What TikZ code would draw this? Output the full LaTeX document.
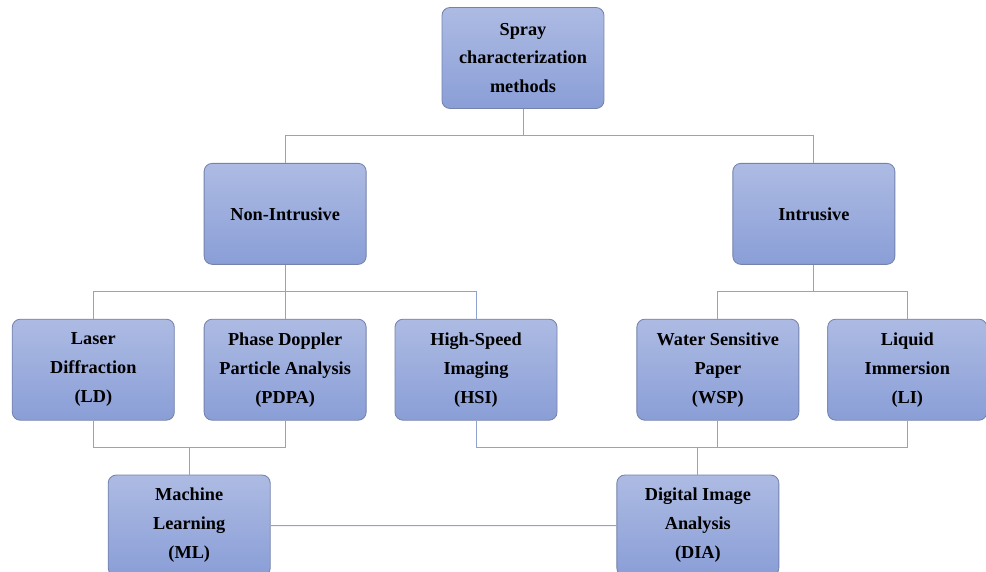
\documentclass[tikz,border=0pt]{standalone}
\usepackage{fontspec}
\setmainfont{Liberation Serif}
\usetikzlibrary{positioning,calc}

\definecolor{boxtop}{HTML}{ADBBE3}
\definecolor{boxbot}{HTML}{8A9ED7}
\definecolor{boxline}{HTML}{7482AC}
\definecolor{linkline}{HTML}{8FA2D0}

\begin{document}
\begin{tikzpicture}[
method/.style={rectangle, rounded corners=0.2cm, draw=boxline, line width=0.6pt, top color=boxtop, bottom color=boxbot, minimum width=4.05cm, minimum height=2.525cm, align=center, font=\fontsize{13}{20.6}\selectfont\bfseries},
link/.style={draw=linkline, line width=0.7pt}
]
\useasboundingbox (0,0) rectangle (24.65,-14.275);
%Nodes
\node[method]	(spray)	at (13.075,-1.45)								{Spray\\ characterization\\ methods};
\node[method]	(nonintr)	[below left= 1.35cm and 1.875cm of spray]		{Non-Intrusive};
\node[method]	(intr)		[below right= 1.35cm and 3.2cm of spray]		{Intrusive};
\node[method]	(pdpa)		[below= 1.35cm of nonintr]						{Phase Doppler\\ Particle Analysis\\ (PDPA)};
\node[method]	(ld)		[left= 0.725cm of pdpa]							{Laser\\ Diffraction\\ (LD)};
\node[method]	(hsi)		[right= 0.7cm of pdpa]							{High-Speed\\ Imaging\\ (HSI)};
\node[method]	(wsp)		[right= 1.975cm of hsi]							{Water Sensitive\\ Paper\\ (WSP)};
\node[method, minimum width=3.98cm]	(li)	[right= 0.7cm of wsp]		{Liquid\\ Immersion\\ (LI)};
\node[method]	(ml)		[below= 1.35cm of $(ld.south)!0.5!(pdpa.south)$]	{Machine\\ Learning\\ (ML)};
\node[method]	(dia)		[below= 1.35cm of wsp, xshift=-0.5cm]			{Digital Image\\ Analysis\\ (DIA)};

%Lines
\draw[link] (spray.south)	--	+(0,-0.675)	-|	(nonintr.north);
\draw[link] (spray.south)	--	+(0,-0.675)	-|	(intr.north);
\draw[link] (nonintr.south)	--	+(0,-0.675)	-|	(ld.north);
\draw[link] (nonintr.south)	--	+(0,-0.675)	-|	(pdpa.north);
\draw[link] (nonintr.south)	--	+(0,-0.675)	-|	(hsi.north);
\draw[link] (intr.south)	--	+(0,-0.675)	-|	(wsp.north);
\draw[link] (intr.south)	--	+(0,-0.675)	-|	(li.north);
\draw[link] (ld.south)		--	+(0,-0.675)	-|	(ml.north);
\draw[link] (pdpa.south)	--	+(0,-0.675)	-|	(ml.north);
\draw[link] (hsi.south)		--	+(0,-0.675)	-|	(dia.north);
\draw[link] (wsp.south)		--	+(0,-0.675)	-|	(dia.north);
\draw[link] (li.south)		--	+(0,-0.675)	-|	(dia.north);
\draw[link] (ml.east)		--					(dia.west);

\end{tikzpicture}
\end{document}
